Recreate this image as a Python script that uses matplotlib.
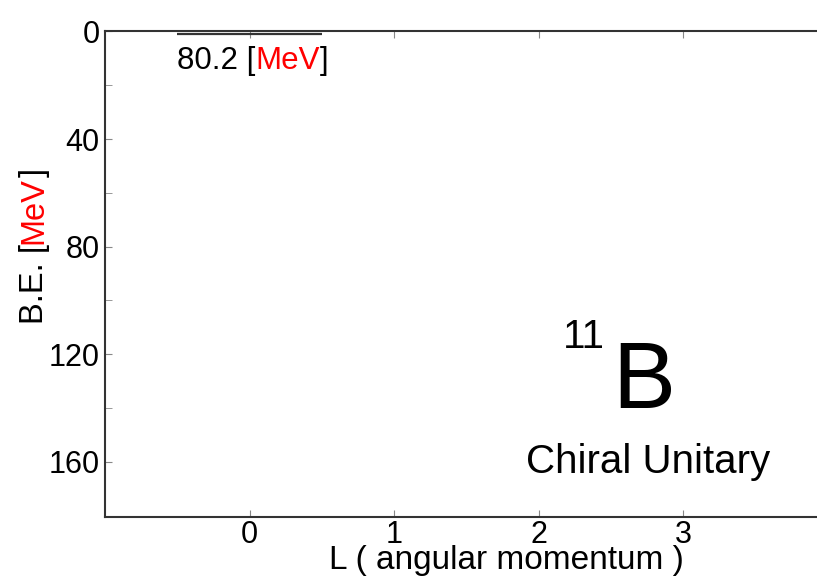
import numpy as np
import matplotlib.pyplot as plt

plt.rcParams['font.family'] = ['Liberation Sans', 'DejaVu Sans']

# level scheme data
L_values = [0]
level_pos = [1.1]          # plotted depth of the level on the B.E. axis
level_labels = ["80.2"]
half_width = 0.5

nucleus_mass = "11"
nucleus_symbol = "B"
model_name = "Chiral Unitary"

x_ticks = [0, 1, 2, 3]
y_major = [0, 40, 80, 120, 160]
y_minor = [20, 60, 100, 140, 180]

fig = plt.figure(figsize=(8.17, 5.77), dpi=100)
ax = fig.add_axes([105 / 817, 60 / 577, 722.5 / 817, 485.6 / 577])

for L, e, lab in zip(L_values, level_pos, level_labels):
    ax.plot([L - half_width, L + half_width], [e, e], color='#333333', lw=1.6,
            solid_capstyle='butt', clip_on=False)
    t1 = ax.text(L - half_width, e + 9.8, lab + " [", fontsize=22.5,
                 ha='left', va='center')
    t2 = ax.annotate("MeV", xy=(1, 0.5), xycoords=t1, fontsize=22.5,
                     color='red', ha='left', va='center')
    ax.annotate("]", xy=(1, 0.5), xycoords=t2, fontsize=22.5,
                ha='left', va='center')

ax.text(2.17, 117.5, nucleus_mass, fontsize=29, ha='left', va='baseline')
ax.text(2.51, 140, nucleus_symbol, fontsize=68, ha='left', va='baseline')
ax.text(1.915, 164, model_name, fontsize=29, ha='left', va='baseline')

ax.set_xlim(-1, 4)
ax.set_ylim(180.5, 0)
ax.set_xticks(x_ticks)
ax.set_yticks(y_major)
ax.set_yticks(y_minor, minor=True)
ax.tick_params(axis='both', which='both', direction='in', top=True,
               right=False, color='#888888', labelsize=22, pad=4)
ax.tick_params(axis='x', which='major', pad=2)
ax.tick_params(axis='both', which='major', length=5)
ax.tick_params(axis='both', which='minor', length=5)
ax.spines['right'].set_visible(False)
for s in ['left', 'bottom', 'top']:
    ax.spines[s].set_color('#333333')
    ax.spines[s].set_linewidth(1.5)

# axis titles, drawn in pieces so that the unit can be coloured
fig.text(506 / 817, 7.5 / 577, "L ( angular momentum )", fontsize=24,
         ha='center', va='baseline')
y1 = fig.text(34 / 817, (577 - 324) / 577, "B.E. [", fontsize=23.5,
              rotation=90, ha='center', va='bottom')
y2 = fig.text(0, 0, "MeV", fontsize=23.5, rotation=90, color='red',
              ha='center', va='bottom')
y3 = fig.text(0, 0, "]", fontsize=23.5, rotation=90, ha='center', va='bottom')
fig.canvas.draw()
r = fig.canvas.get_renderer()
bb = y1.get_window_extent(r)
y2.set_position(fig.transFigure.inverted().transform(((bb.x0 + bb.x1) / 2, bb.y1)))
bb = y2.get_window_extent(r)
y3.set_position(fig.transFigure.inverted().transform(((bb.x0 + bb.x1) / 2, bb.y1)))

fig.savefig("out.png", dpi=100)
